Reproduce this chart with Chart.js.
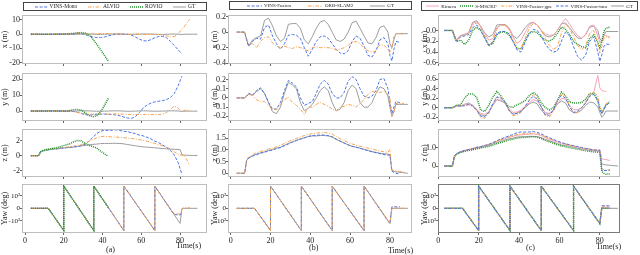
<!DOCTYPE html>
<html>
<head>
<meta charset="utf-8">
<script src="https://cdn.jsdelivr.net/npm/chart.js@4.4.0/dist/chart.umd.min.js"></script>
<style>
  body { margin: 0; background: #fff; width: 640px; height: 255px; position: relative; overflow: hidden;
         font-family: "Liberation Serif", "Times New Roman", serif; color: #222; }
  canvas { position: absolute; }
  .leg { position: absolute; box-sizing: border-box; border: 1px solid #444; display: flex;
         align-items: center; justify-content: space-evenly; white-space: nowrap; line-height: 1; }
  .leg span { display: inline-flex; align-items: center; }
  .leg svg { margin-right: 2px; }
  .lab { position: absolute; font-size: 8px; white-space: nowrap; line-height: 1; }
</style>
</head>
<body>
<script>
// ---- tijdas (s), gedeeld door alle posities
const T = [3,5,7,8,9,
  11,13,15,17,19,21,23,25,27,29,
  31,33,35,37,39,41,43,45,47,49,
  51,53,55,57,59,61,63,65,67,69,
  71,73,75,77,79,
  80,81,82,83,
  85,87,89];

// ---- GT (zelfde traject in a, b en c)
const gtX = [0,0,0,-0.1,-0.18,
  -0.1,-0.07,-0.05,0.15,0.18,0.08,-0.05,-0.12,-0.08,0.1,
  0.11,0.11,0.05,-0.1,-0.15,-0.06,0.05,0.13,0.15,0.1,
  0.0,-0.1,-0.12,-0.09,0.0,0.12,0.14,0.05,-0.05,-0.14,
  -0.15,-0.07,0.06,0.08,0.0,
  -0.15,-0.2,-0.1,-0.02,
  -0.02,-0.02,-0.02];
const gtY = [0,0,0,0.02,0.04,
  0.03,0.07,0.1,0.05,-0.05,-0.15,-0.17,-0.1,0.05,0.17,
  0.14,0.1,-0.05,-0.14,-0.11,-0.07,0.0,0.08,0.12,0.08,
  -0.05,-0.14,-0.12,-0.05,0.08,0.14,0.1,-0.05,-0.1,-0.1,
  -0.05,0.05,0.12,0.1,0.02,
  -0.1,-0.2,-0.15,-0.07,
  -0.07,-0.07,-0.07];
const gtZ = [0,0,0,0.55,0.65,
  0.75,0.82,0.88,0.92,0.98,1.02,1.08,1.12,1.2,1.28,
  1.35,1.42,1.48,1.52,1.58,1.6,1.6,1.62,1.62,1.6,
  1.55,1.45,1.38,1.3,1.22,1.15,1.12,1.08,1.03,0.98,
  0.93,0.9,0.86,0.84,0.82,
  0.8,0.12,0.08,0.06,
  0.04,0.02,0.0];

// ---- (a) VINS-Mono / ALVIO / ROVIO
const monoX = [0,0,0,0,0,
  0,0,0,0,0,0,0,0.2,0.5,0.4,
  -0.3,-1.2,-2.0,-2.3,-2.3,-2.0,-1.2,-0.5,0,0,
  0,0,-0.8,-2.0,-3.5,-4.6,-4.8,-3.8,-2.5,-1.6,
  -1.5,-2.5,-5.0,-8.0,-11.0,
  -12.5,-13.8,null,null,
  null,null,null];
const monoY = [0,0,0,0,0,
  0,0,0,0,0,0,0,-0.3,-0.8,-1.5,
  -2.3,-2.5,-2.3,-2.0,-2.0,-2.0,-2.0,-2.2,-2.5,-3.0,
  -3.8,-4.5,-4.6,-3.5,-1.0,2.0,3.8,5.0,5.8,6.2,
  6.5,7.2,8.5,11.0,16.0,
  19.0,22.0,null,null,
  null,null,null];
const monoZ = [0,0,0,0.5,0.6,
  0.7,0.8,0.85,0.9,1.0,1.05,1.1,1.15,1.2,1.3,
  1.5,1.9,2.4,2.9,3.2,3.35,3.3,3.35,3.4,3.3,
  3.2,3.15,3.0,2.9,2.7,2.6,2.4,2.2,1.9,1.7,
  1.4,1.1,0.7,0.1,-0.9,
  -1.7,-2.5,null,null,
  null,null,null];
const alvioX = [0,0,0,0,0,
  0,0,0,0,0,0,0.1,0.3,0.8,0.6,
  0.2,0.0,0.2,0.3,0.4,0.5,0.4,0.3,0.2,0.3,
  0.0,-0.2,0.0,0.2,0.0,-0.3,-0.2,0.0,0.0,-0.2,
  -0.6,-1.2,-1.8,-1.6,0.0,
  2.0,3.5,5.0,7.0,
  10.5,null,null];
const alvioY = [0,0,0,0,0,
  0,0,0,0,0,0,0,-0.3,-0.8,-1.3,
  -1.8,-2.0,-2.0,-1.8,-1.7,-1.8,-2.0,-2.0,-1.8,-1.9,
  -2.0,-2.2,-2.3,-2.3,-2.2,-2.2,-2.3,-2.3,-2.2,-2.2,
  -2.0,-1.0,1.0,3.2,1.8,
  0.5,-0.3,0.3,0.6,
  0.3,null,null];
const alvioZ = [0,0,0,0.5,0.65,
  0.75,0.85,0.9,1.0,1.05,1.1,1.2,1.25,1.35,1.45,
  1.6,1.9,2.1,2.35,2.5,2.55,2.5,2.45,2.45,2.4,
  2.35,2.3,2.25,2.2,2.1,2.0,1.9,1.75,1.6,1.45,
  1.3,1.1,0.9,0.5,0.2,
  0.1,0.05,0.0,-0.3,
  -1.3,null,null];
const rovioT = [3,5,7,8,9,11,13,15,17,19,21,23,25,27,29,31,33,35,37,39,41,43];
const rovioX = [0,0,0,0,0, 0,0,0,0,0,0.1,0.3,0.6,1.0,1.1, 0.8,-0.5,-3.5,-7.0,-11.0,-15.0,-19.0];
const rovioY = [0,0,0,0,0, 0,0,0,0,0,0,0.3,0.8,1.0,0.5, -1.0,-2.8,-3.6,-3.0,-0.5,3.5,8.0];
const rovioZ = [0,0,0,0.5,0.65, 0.8,0.9,1.0,1.1,1.25,1.4,1.55,1.8,2.0,1.95, 1.6,1.35,1.2,1.0,0.6,0.25,-0.1];

// ---- (b) VINS-Fusion / ORB-SLAM2
const vfX = [0,0,0,-0.1,-0.18,
  -0.12,-0.08,-0.09,0.06,0.09,-0.05,-0.15,-0.22,-0.15,-0.04,
  -0.03,-0.04,-0.08,-0.2,-0.31,-0.22,-0.12,-0.06,-0.05,-0.08,
  -0.15,-0.22,-0.27,-0.28,-0.24,-0.12,-0.05,-0.08,-0.18,-0.3,
  -0.32,-0.24,-0.1,-0.07,-0.15,
  -0.3,-0.37,-0.22,-0.12,
  -0.13,null,null];
const vfY = [0,0,0,0.02,0.05,
  0.03,0.08,0.11,0.05,-0.05,-0.12,-0.12,-0.05,0.08,0.19,
  0.16,0.12,0.0,-0.08,-0.06,-0.04,0.05,0.15,0.19,0.15,
  0.05,0.0,0.0,0.06,0.18,0.23,0.2,0.1,0.02,0.0,
  0.02,0.08,0.2,0.21,0.1,
  -0.05,-0.17,-0.1,-0.04,
  -0.05,null,null];
const vfZ = [0,0,0,0.55,0.65,
  0.74,0.8,0.86,0.9,0.96,1.0,1.06,1.1,1.18,1.26,
  1.33,1.4,1.46,1.52,1.58,1.62,1.63,1.64,1.64,1.62,
  1.57,1.47,1.38,1.3,1.22,1.16,1.12,1.07,1.02,0.97,
  0.92,0.88,0.84,0.8,0.78,
  0.78,0.1,0.03,0.0,
  -0.04,null,null];
const orbX = [0,0,0,-0.08,-0.15,
  -0.15,-0.2,-0.12,-0.07,-0.06,-0.14,-0.18,-0.2,-0.18,-0.2,
  -0.21,-0.19,-0.2,-0.22,-0.24,-0.2,-0.19,-0.2,-0.2,-0.2,
  -0.21,-0.23,-0.22,-0.2,-0.17,-0.13,-0.12,-0.15,-0.2,-0.24,
  -0.26,-0.24,-0.16,-0.17,-0.22,
  -0.26,-0.2,-0.06,-0.02,
  -0.02,-0.03,null];
const orbY = [0,0,0,0.02,0.04,
  0.03,-0.02,-0.04,-0.04,-0.08,-0.12,-0.13,-0.07,-0.02,0.01,
  -0.05,-0.08,-0.12,-0.18,-0.1,-0.1,-0.07,-0.05,-0.07,-0.09,
  -0.12,-0.14,-0.1,-0.09,-0.07,-0.08,-0.1,-0.06,-0.02,0.04,
  0.07,0.06,0.06,0.07,0.04,
  0.0,-0.2,-0.15,-0.06,
  -0.06,-0.06,null];
const orbZ = [0,0,0,0.58,0.7,
  0.8,0.88,0.94,0.98,1.04,1.08,1.14,1.2,1.28,1.36,
  1.43,1.5,1.56,1.62,1.67,1.7,1.72,1.74,1.75,1.73,
  1.68,1.58,1.48,1.4,1.32,1.26,1.2,1.16,1.12,1.08,
  1.04,1.0,0.96,0.92,0.9,
  1.02,0.15,0.12,0.1,
  0.08,0.06,null];

// ---- (c) Kimera / S-MSCKF / VINS-Fusion-gps / VINS-Fusion-imu
const kimX = [0,0,0,-0.1,-0.2,
  -0.09,-0.08,-0.05,0.13,0.16,0.08,-0.06,-0.18,-0.15,0.05,
  0.1,0.09,0.04,-0.12,-0.24,-0.18,-0.04,0.1,0.15,0.1,
  0.0,-0.06,-0.09,-0.08,0.0,0.12,0.22,0.12,0.0,-0.1,
  -0.14,-0.08,0.08,0.1,-0.1,
  -0.22,-0.2,-0.08,-0.1,
  -0.12,null,null];
const kimY = [0,0,0,0.02,0.04,
  0.04,0.07,0.08,0.05,-0.03,-0.12,-0.14,-0.08,0.05,0.17,
  0.16,0.1,-0.02,-0.1,-0.09,-0.05,0.02,0.1,0.17,0.14,
  0.02,-0.1,-0.12,-0.06,0.08,0.2,0.18,0.05,-0.04,-0.04,
  0.0,0.1,0.25,0.32,0.68,
  0.42,0.36,0.35,0.34,
  null,null,null];
const kimZ = [0,0,0,0.55,0.68,
  0.78,0.85,0.9,0.95,1.02,1.06,1.12,1.18,1.26,1.34,
  1.42,1.5,1.56,1.62,1.68,1.7,1.72,1.74,1.75,1.72,
  1.66,1.55,1.46,1.38,1.3,1.22,1.18,1.13,1.08,1.03,
  0.98,0.94,0.9,0.87,0.86,
  0.9,0.4,0.36,0.35,
  0.3,null,null];
const msX = [0,0,0,-0.12,-0.2,
  -0.18,-0.26,-0.18,0.0,0.06,0.0,-0.12,-0.28,-0.24,-0.08,
  -0.03,-0.03,-0.08,-0.2,-0.33,-0.34,-0.18,-0.05,-0.02,-0.04,
  -0.12,-0.18,-0.2,-0.15,-0.05,0.06,0.02,-0.08,-0.2,-0.26,
  -0.3,-0.32,-0.15,-0.08,-0.22,
  -0.32,-0.2,-0.02,0.04,
  0.06,null,null];
const msY = [0,0,0,0.02,0.05,
  0.06,0.2,0.29,0.29,0.22,-0.05,-0.08,0.05,0.22,0.34,
  0.25,0.12,0.02,0.01,0.06,0.1,0.15,0.25,0.32,0.26,
  0.1,0.0,-0.05,0.0,0.15,0.33,0.25,0.12,0.1,0.1,
  0.11,0.18,0.3,0.3,0.15,
  0.0,-0.1,-0.02,0.05,
  0.12,null,null];
const msZ = [0,0,0,0.52,0.64,
  0.74,0.8,0.85,0.88,0.94,0.98,1.03,1.07,1.14,1.22,
  1.28,1.35,1.42,1.46,1.52,1.55,1.56,1.58,1.6,1.57,
  1.5,1.4,1.32,1.24,1.16,1.1,1.05,1.0,0.96,0.92,
  0.87,0.83,0.8,0.77,0.75,
  0.72,-0.3,-0.4,-0.45,
  -0.42,null,null];
const gpsX = [0,0,0,-0.1,-0.18,
  -0.1,-0.1,-0.03,0.1,0.14,0.05,-0.12,-0.28,-0.2,0.02,
  0.1,0.1,0.02,-0.18,-0.33,-0.35,-0.15,0.04,0.13,0.1,
  0.0,-0.15,-0.28,-0.35,-0.3,-0.05,0.12,0.04,-0.12,-0.28,
  -0.36,-0.28,-0.05,0.0,-0.25,
  -0.42,-0.3,-0.15,-0.12,
  -0.14,null,null];
const gpsY = [0,0,0,0.02,0.05,
  0.04,0.05,0.06,0.03,-0.06,-0.2,-0.22,-0.12,0.08,0.24,
  0.22,0.12,-0.06,-0.17,-0.15,-0.1,0.02,0.16,0.27,0.2,
  0.02,-0.17,-0.2,-0.08,0.15,0.3,0.24,0.04,-0.12,-0.1,
  0.0,0.12,0.28,0.33,0.25,
  0.0,-0.1,-0.02,0.08,
  0.15,null,null];
const gpsZ = [0,0,0,0.56,0.68,
  0.78,0.85,0.9,0.95,1.02,1.06,1.12,1.18,1.26,1.35,
  1.44,1.52,1.58,1.65,1.72,1.75,1.76,1.78,1.8,1.77,
  1.7,1.6,1.5,1.42,1.34,1.26,1.2,1.15,1.1,1.05,
  1.0,0.96,0.92,0.88,0.86,
  0.85,-0.15,-0.2,-0.2,
  -0.2,null,null];
const imuX = [0,0,0,-0.1,-0.2,
  -0.12,-0.1,-0.08,0.05,0.1,0.0,-0.15,-0.28,-0.22,-0.05,
  -0.02,-0.02,-0.06,-0.2,-0.36,-0.4,-0.22,-0.06,0.02,0.0,
  -0.1,-0.25,-0.35,-0.4,-0.38,-0.2,-0.03,-0.1,-0.3,-0.48,
  -0.55,-0.45,-0.2,-0.12,-0.4,
  -0.57,-0.45,-0.3,-0.25,
  -0.26,null,null];
const imuY = [0,0,0,0.02,0.05,
  0.03,0.04,0.07,0.04,-0.05,-0.18,-0.19,-0.1,0.08,0.22,
  0.2,0.12,-0.05,-0.14,-0.12,-0.08,0.03,0.15,0.24,0.18,
  0.02,-0.15,-0.16,-0.05,0.15,0.26,0.2,0.02,-0.1,-0.07,
  0.0,0.1,0.24,0.28,0.16,
  -0.05,-0.12,-0.05,0.05,
  0.12,null,null];
const imuZ = [0,0,0,0.56,0.68,
  0.78,0.85,0.9,0.95,1.02,1.06,1.12,1.18,1.28,1.38,
  1.48,1.56,1.64,1.72,1.82,1.86,1.85,1.86,1.88,1.84,
  1.75,1.64,1.54,1.45,1.36,1.28,1.22,1.16,1.11,1.06,
  1.01,0.96,0.92,0.88,0.86,
  0.84,-0.2,-0.25,-0.25,
  -0.25,null,null];

// ---- yaw (graden), hoekpunten van de zaagtand
const yawT_gt = [3,12,20,20,35.5,35.5,51,51,67,67,80,81,89];
const yawGT = [0,0,-180,180,-180,180,-180,180,-180,180,-122,0,0];
const yawT_mono = [3,12,20,20,35.5,35.5,51,51,67,67,75,77,80,81];
const yawMono = [0,0,-180,180,-180,180,-180,180,-180,180,-7,-50,-55,-30];
const yawT_alvio = [3,12,20,20,35.5,35.5,51,51,67,67,75,77,80,81,82,85];
const yawAlvio = [0,0,-180,180,-180,180,-180,180,-180,180,-7,-45,-45,-10,5,5];
const yawT_rovio = [3,12,20,20,35.5,35.5,43];
const yawRovio = [0,0,-180,180,-180,180,6];
const yawT_vf = [3,12,20,20,35.5,35.5,51,51,67,67,80,81,85];
const yawVf = [0,0,-180,180,-180,180,-180,180,-180,180,-125,12,12];
const yawT_orb = [3,12,20,20,35.5,35.5,51,51,67,67,80,81,87];
const yawOrb = [0,0,-180,180,-180,180,-180,180,-180,180,-125,2,2];
const yawT_c = [3,12,20,20,35.5,35.5,51,51,67,67,80,81,85];
const yawKim = [0,0,-180,180,-180,180,-180,180,-180,180,-120,5,5];
const yawMs = [0,0,-180,180,-180,180,-180,180,-180,180,-125,0,0];
const yawGps = [0,0,-180,180,-180,180,-180,180,-180,180,-122,18,18];
const yawImu = [0,0,-180,180,-180,180,-180,180,-180,180,-125,20,20];

// ---- ticks
const timeTicks = [0, 20, 40, 60, 80];
const tickAx = ['10','0','-10','-20'];
const tickAy = ['20','10','0'];
const tickAz = ['2','0','-2'];
const tickBx = ['0.2','0','-0.2','-0.4'];
const tickBy = ['0.2','0.1','0','-0.1','-0.2'];
const tickBz = ['1.5','1.0','0.5','0'];
const tickCx = ['0.0','-0.2','-0.4','-0.6'];
const tickCy = ['0.6','0.4','0.2','0','-0.2'];
const tickCz = ['1.0','0'];
const yawTicks = [100, 0, -100];
const yawTickLabels = ['10²','0','-10²'];

// ---- stijlen
const STYLE = {
  blue:   { color: '#4a74e8', dash: [3, 1.6], width: 1 },
  orange: { color: '#f7a24f', dash: [3.5, 1.5, 1, 1.5], width: 1 },
  green:  { color: '#22922a', dash: [1, 1], width: 1.5 },
  gray:   { color: '#9c9c9c', dash: [], width: 1 },
  pink:   { color: '#f4a4b6', dash: [], width: 1 }
};

const SERIES = [
  [
    { label: 'VINS-Mono', st: 'blue', t: T, x: monoX, y: monoY, z: monoZ, yt: yawT_mono, yaw: yawMono },
    { label: 'ALVIO', st: 'orange', t: T, x: alvioX, y: alvioY, z: alvioZ, yt: yawT_alvio, yaw: yawAlvio },
    { label: 'ROVIO', st: 'green', t: rovioT, x: rovioX, y: rovioY, z: rovioZ, yt: yawT_rovio, yaw: yawRovio },
    { label: 'GT', st: 'gray', t: T, x: gtX, y: gtY, z: gtZ, yt: yawT_gt, yaw: yawGT }
  ],
  [
    { label: 'VINS-Fusion', st: 'blue', t: T, x: vfX, y: vfY, z: vfZ, yt: yawT_vf, yaw: yawVf },
    { label: 'ORB-SLAM2', st: 'orange', t: T, x: orbX, y: orbY, z: orbZ, yt: yawT_orb, yaw: yawOrb },
    { label: 'GT', st: 'gray', t: T, x: gtX, y: gtY, z: gtZ, yt: yawT_gt, yaw: yawGT }
  ],
  [
    { label: 'Kimera', st: 'pink', t: T, x: kimX, y: kimY, z: kimZ, yt: yawT_c, yaw: yawKim },
    { label: 'S-MSCKF', st: 'green', t: T, x: msX, y: msY, z: msZ, yt: yawT_c, yaw: yawMs },
    { label: 'VINS-Fusion-gps', st: 'orange', t: T, x: gpsX, y: gpsY, z: gpsZ, yt: yawT_c, yaw: yawGps },
    { label: 'VINS-Fusion-imu', st: 'blue', t: T, x: imuX, y: imuY, z: imuZ, yt: yawT_c, yaw: yawImu },
    { label: 'GT', st: 'gray', t: T, x: gtX, y: gtY, z: gtZ, yt: yawT_gt, yaw: yawGT }
  ]
];

function ax(min, max, labels, title, vals) {
  return { min, max, labels, title, vals: vals || labels.map(Number) };
}
const AXES = [
  [ax(-21, 13.5, tickAx, 'x (m)'), ax(-6.3, 24, tickAy, 'y (m)'), ax(-2.8, 3.5, tickAz, 'z (m)'),
   ax(-200, 197, yawTickLabels, 'Yaw (deg)', yawTicks)],
  [ax(-0.41, 0.22, tickBx, 'x (m)'), ax(-0.25, 0.27, tickBy, 'y (m)'), ax(-0.16, 1.9, tickBz, 'z (m)'),
   ax(-200, 197, yawTickLabels, 'Yaw (deg)', yawTicks)],
  [ax(-0.62, 0.285, tickCx, 'x (m)'), ax(-0.28, 0.73, tickCy, 'y (m)'), ax(-0.6, 2.02, tickCz, 'z (m)'),
   ax(-200, 197, yawTickLabels, 'Yaw (deg)', yawTicks)]
];

// ---- layout
const COL_L = [22, 228, 438], COL_R = [207, 412, 620], COL_YW = [22, 18, 18];
const COL_XMIN = [-1.55, -1.36, -0.15], COL_XMAX = [93.9, 91.1, 90];
const ROW_T = [15, 73, 129, 184], ROW_B = [64, 121, 177, 233];
const KEYS = ['x', 'y', 'z', 'yaw'];
const FONT = { family: '"Liberation Serif", "Times New Roman", serif', size: 8 };
const FONT_YAW = { family: FONT.family, size: 7 };

Chart.defaults.font.family = FONT.family;
Chart.defaults.font.size = 8;
Chart.defaults.color = '#222';

const framePlugin = {
  id: 'frame',
  afterDraw(chart, args, opts) {
    const a = chart.chartArea, ctx = chart.ctx;
    ctx.save();
    ctx.strokeStyle = opts.color;
    ctx.lineWidth = 1;
    ctx.strokeRect(a.left + 0.5, a.top + 0.5, a.right - a.left - 1, a.bottom - a.top - 1);
    ctx.restore();
  }
};

// GT onderaan, de rest in legendavolgorde erboven
function maakDataset(s, key, i, n) {
  const tt = key === 'yaw' ? s.yt : s.t;
  const vv = s[key];
  const st = STYLE[s.st];
  return {
    label: s.label,
    data: tt.map((t, k) => ({ x: t, y: vv[k] })),
    borderColor: st.color,
    borderWidth: st.width,
    borderDash: st.dash,
    pointRadius: 0,
    fill: false,
    tension: 0,
    spanGaps: false,
    order: s.label === 'GT' ? 99 : n - 1 - i
  };
}

SERIES.forEach((series, c) => {
  KEYS.forEach((key, r) => {
    const last = r === 3;
    const xh = last ? 14 : 4;
    const padTop = 5, padRight = 3, padBottom = last ? 0 : 2;
    const L = COL_L[c], R = COL_R[c], Tp = ROW_T[r], B = ROW_B[r], yw = COL_YW[c];
    const spec = AXES[c][r];

    const cv = document.createElement('canvas');
    cv.width = R - L + yw + padRight;
    cv.height = B - Tp + padTop + xh + padBottom;
    cv.style.left = (L - yw) + 'px';
    cv.style.top = (Tp - padTop) + 'px';
    document.body.appendChild(cv);

    new Chart(cv, {
      type: 'line',
      data: { datasets: series.map((s, i) => maakDataset(s, key, i, series.length)) },
      options: {
        responsive: false,
        animation: false,
        devicePixelRatio: 1,
        layout: { padding: { top: padTop, right: padRight, bottom: padBottom, left: 0 } },
        plugins: {
          legend: { display: false },
          tooltip: { enabled: false },
          frame: { color: (c === 2 && last) ? '#7a7a7a' : '#bdbdbd' }
        },
        scales: {
          x: {
            type: 'linear',
            min: COL_XMIN[c], max: COL_XMAX[c],
            afterBuildTicks: a => { a.ticks = timeTicks.map(v => ({ value: v })); },
            afterFit: a => { a.height = xh; a.paddingLeft = 0; a.paddingRight = 0; },
            ticks: { display: last, autoSkip: false, maxRotation: 0, padding: 1, font: FONT, color: '#222' },
            grid: { drawOnChartArea: false, drawTicks: true, tickLength: 2, color: '#666' },
            border: { display: false }
          },
          y: {
            type: 'linear',
            min: spec.min, max: spec.max,
            afterBuildTicks: a => { a.ticks = spec.vals.map(v => ({ value: v })); },
            afterFit: a => { a.width = yw; a.paddingTop = 0; a.paddingBottom = 0; },
            ticks: { autoSkip: false, padding: 0, font: last ? FONT_YAW : FONT, color: '#222',
                     callback: (v, i) => spec.labels[i] },
            title: { display: true, text: spec.title, font: FONT, color: '#222',
                     padding: { top: 0, bottom: 0 } },
            grid: { drawOnChartArea: false, drawTicks: true, tickLength: 2, color: '#666' },
            border: { display: false }
          }
        }
      },
      plugins: [framePlugin]
    });
  });
});

// ---- legendas boven elke kolom
const LEGEND_BOX = [
  { left: 23, top: 2, width: 184, height: 9, font: 5.5, sample: 13 },
  { left: 229, top: 1, width: 183, height: 9, font: 5, sample: 15 },
  { left: 421, top: 1, width: 217, height: 10, font: 5, sample: 13 }
];
SERIES.forEach((series, c) => {
  const b = LEGEND_BOX[c];
  const div = document.createElement('div');
  div.className = 'leg';
  div.style.cssText = `left:${b.left}px;top:${b.top}px;width:${b.width}px;height:${b.height}px;font-size:${b.font}px;`;
  series.forEach(s => {
    const st = STYLE[s.st];
    const item = document.createElement('span');
    item.innerHTML = `<svg width="${b.sample}" height="4"><line x1="0" y1="2" x2="${b.sample}" y2="2" stroke="${st.color}" stroke-width="${st.width}" stroke-dasharray="${st.dash.join(' ')}"/></svg>`;
    item.appendChild(document.createTextNode(s.label));
    div.appendChild(item);
  });
  document.body.appendChild(div);
});

// ---- onderschriften
const CAPTIONS = [
  { text: '(a)', left: 106, top: 246 },
  { text: 'Time(s)', left: 176, top: 242 },
  { text: '(b)', left: 309, top: 244 },
  { text: 'Time(s)', left: 388, top: 247 },
  { text: '(c)', left: 526, top: 244 },
  { text: 'Time(s)', left: 596, top: 243 }
];
CAPTIONS.forEach(cap => {
  const el = document.createElement('div');
  el.className = 'lab';
  el.style.left = cap.left + 'px';
  el.style.top = cap.top + 'px';
  el.textContent = cap.text;
  document.body.appendChild(el);
});
</script>
</body>
</html>
